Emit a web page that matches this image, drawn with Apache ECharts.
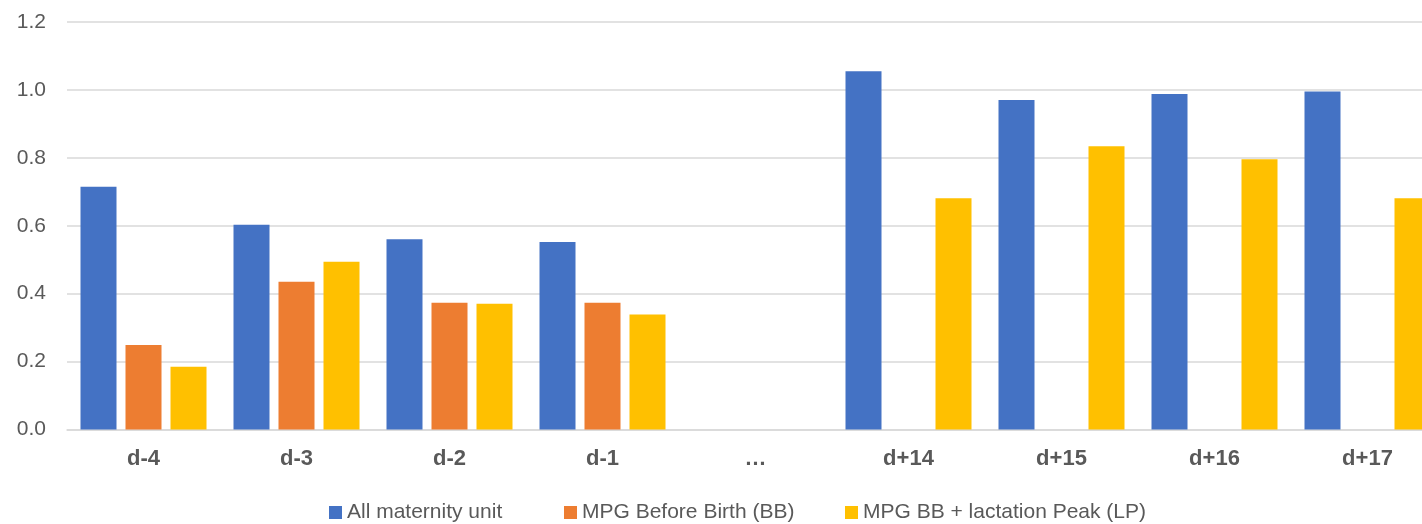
<!DOCTYPE html>
<html>
<head>
<meta charset="utf-8">
<style>html,body{margin:0;padding:0;background:#fff;overflow:hidden;}#chart{width:1444px;height:524px;}</style>
<script src="https://cdn.jsdelivr.net/npm/echarts@6/dist/echarts.min.js"></script>
</head>
<body>
<div id="chart"></div>
<script>
const categories = ['d-4', 'd-3', 'd-2', 'd-1', '\u2026', 'd+14', 'd+15', 'd+16', 'd+17'];
const seriesNames = ['All maternity unit', 'MPG Before Birth (BB)', 'MPG BB + lactation Peak (LP)'];
const allMaternity = [0.715, 0.603, 0.560, 0.552, null, 1.055, 0.970, 0.988, 0.995];
const mpgBB = [0.249, 0.435, 0.373, 0.373, null, null, null, null, null];
const mpgBBLP = [0.185, 0.494, 0.370, 0.339, null, 0.681, 0.834, 0.796, 0.681];
const colors = ['#4472C4', '#ED7D31', '#FFC000'];
const legendLefts = [329, 564, 845];

const chart = echarts.init(document.getElementById('chart'), null, {renderer: 'canvas'});
const legendText = {fontFamily: 'Liberation Sans', fontSize: 21, color: '#595959'};
const option = {
  animation: false,
  color: colors,
  grid: {left: 67, top: 22, right: 0, bottom: 94.5, containLabel: false},
  legend: seriesNames.map((n, i) => ({
    data: [n], left: legendLefts[i], top: 502, padding: 0,
    itemWidth: 13, itemHeight: 13, icon: 'rect', textStyle: legendText
  })),
  xAxis: {
    type: 'category', data: categories,
    axisLine: {lineStyle: {color: '#d9d9d9', width: 1.5}},
    axisTick: {show: false},
    axisLabel: {fontFamily: 'Liberation Sans', fontSize: 22, fontWeight: 'bold', color: '#595959', margin: 18, interval: 0}
  },
  yAxis: {
    type: 'value', min: 0, max: 1.2, interval: 0.2,
    axisLine: {show: false}, axisTick: {show: false},
    splitLine: {lineStyle: {color: '#d9d9d9', width: 1.5}},
    axisLabel: {fontFamily: 'Liberation Sans', fontSize: 21, color: '#595959', margin: 21,
      formatter: v => v.toFixed(1)}
  },
  series: [
    {name: seriesNames[0], type: 'bar', data: allMaternity, barWidth: 36, barGap: '25%'},
    {name: seriesNames[1], type: 'bar', data: mpgBB, barWidth: 36, barGap: '25%'},
    {name: seriesNames[2], type: 'bar', data: mpgBBLP, barWidth: 36, barGap: '25%'}
  ]
};
chart.setOption(option);
</script>
</body>
</html>
